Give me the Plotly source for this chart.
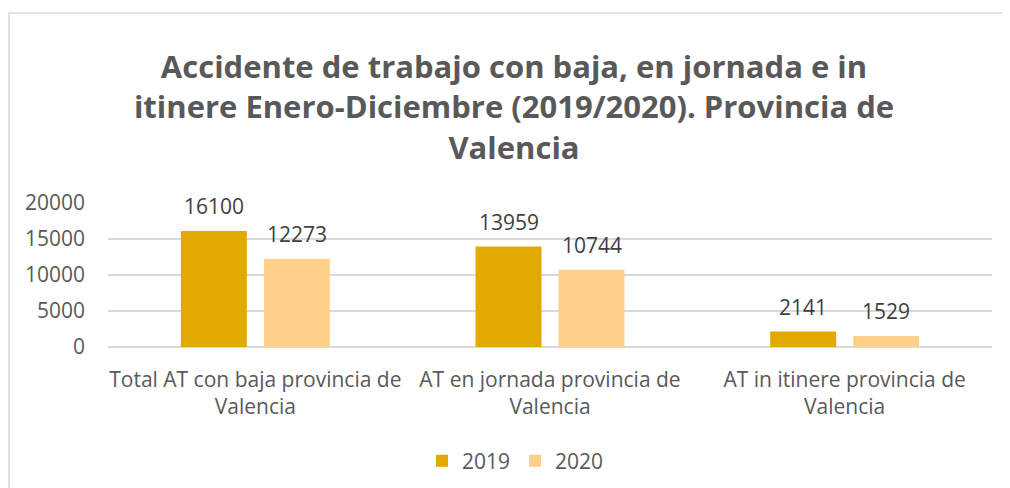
import plotly.graph_objects as go

categories = ["Total AT con baja provincia de<br>Valencia",
              "AT en jornada provincia de<br>Valencia",
              "AT in itinere provincia de<br>Valencia"]
series_names = ["2019", "2020"]
values_2019 = [16100, 13959, 2141]
values_2020 = [12273, 10744, 1529]
y_ticks = [0, 5000, 10000, 15000, 20000]
y_tick_labels = ["0", "5000", "10000", "15000", "20000"]

colors = ["#E2AA00", "#FFD188"]
FONT = "Open Sans"
FS = 21

W, H = 1002, 480
L, R, T, B = 100, 18, 195, 141
PW, PH = W - L - R, H - T - B

fig = go.Figure()
for name, vals, col in zip(series_names, [values_2019, values_2020], colors):
    fig.add_trace(go.Bar(x=categories, y=vals, name=name, marker_color=col,
                         marker_line_width=0, hoverinfo="x+y"))

# data labels above bars
for vals, shift in zip([values_2019, values_2020], [-41.5, 41.5]):
    for c, v in zip(categories, vals):
        fig.add_annotation(x=c, y=v, text=str(v), showarrow=False, xshift=shift,
                           yshift=25, yanchor="middle",
                           font=dict(family=FONT, size=FS, color="#404040"))

fig.update_layout(
    width=W, height=H,
    margin=dict(l=L, r=R, t=T, b=B, autoexpand=False),
    paper_bgcolor="white", plot_bgcolor="white",
    barmode="group", bargap=0.437, bargroupgap=0.205,
    title=dict(text="Accidente de trabajo con baja, en jornada e in<br>itinere Enero-Diciembre (2019/2020). Provincia de<br>Valencia",
               x=0.505, xref="container", xanchor="center",
               y=0.854, yref="container", yanchor="top",
               font=dict(family=FONT, size=31, color="#595959", weight="bold")),
    font=dict(family=FONT, size=FS, color="#595959"),
    showlegend=True,
    legend=dict(orientation="h", x=0.5065, xanchor="center", xref="container",
                y=0.056, yanchor="middle", yref="container",
                font=dict(family=FONT, size=FS, color="#595959")),
    xaxis=dict(showline=False, showgrid=False, ticks="", automargin=False,
               ticklabelstandoff=18,
               tickfont=dict(family=FONT, size=FS, color="#595959")),
    yaxis=dict(range=[0, 20000], tickvals=y_ticks, ticktext=y_tick_labels,
               showgrid=True, gridcolor="#D9D9D9", automargin=False,
               gridwidth=1.5, zeroline=True, zerolinecolor="#D9D9D9", zerolinewidth=1.5,
               showline=False, ticklabelstandoff=22,
               tickfont=dict(family=FONT, size=FS, color="#595959")),
)

fig.add_shape(type="rect", xref="paper", yref="paper",
              x0=(1 - L) / PW, x1=1.2, y0=-1.5, y1=(PH + T - 5) / PH,
              line=dict(color="#D9D9D9", width=1.5), fillcolor="rgba(0,0,0,0)", layer="below")

fig.write_html("out.html")
